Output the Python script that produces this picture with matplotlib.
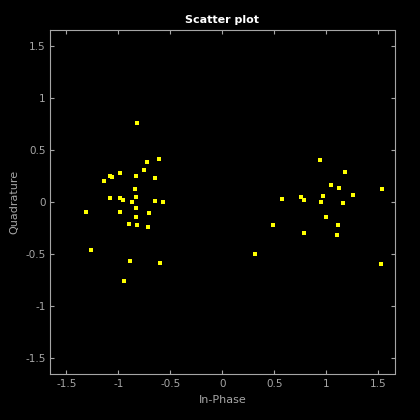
import matplotlib
matplotlib.use("Agg")
import matplotlib.pyplot as plt

# scatter points
in_phase = [-0.826, -0.721, -0.606, -0.75, -0.981, -0.827, -0.644, -1.077, -1.06, -1.137,
            -0.839, -1.077, -0.981, -0.955, -0.827, -0.865, -0.644, -0.567, -1.308, -0.981,
            -0.83, -0.702, -0.827, -0.894, -0.817, -0.712, -1.26, -0.885, -0.596, -0.942,
            0.942, 1.18, 1.048, 1.119, 1.538, 1.26, 0.971, 0.577, 0.754, 0.789,
            0.946, 1.163, 1.0, 1.115, 0.49, 0.789, 1.106, 0.317, 1.529]
quadrature = [0.762, 0.385, 0.413, 0.308, 0.279, 0.256, 0.231, 0.253, 0.24, 0.208,
              0.131, 0.038, 0.044, 0.019, 0.048, 0.0, 0.01, 0.0, -0.096, -0.096,
              -0.058, -0.106, -0.144, -0.212, -0.221, -0.24, -0.462, -0.561, -0.587, -0.76,
              0.41, 0.291, 0.163, 0.14, 0.125, 0.067, 0.058, 0.029, 0.051, 0.019,
              0.003, -0.01, -0.144, -0.221, -0.221, -0.298, -0.317, -0.5, -0.596]

ticks = [-1.5, -1, -0.5, 0, 0.5, 1, 1.5]
tick_labels = ['-1.5', '-1', '-0.5', '0', '0.5', '1', '1.5']

GRAY = '#a6a6a6'

fig = plt.figure(figsize=(4.2, 4.2), dpi=100, facecolor='black')
ax = fig.add_axes([50.3 / 420, 1 - 374.3 / 420, 344.2 / 420, 344 / 420])
ax.set_facecolor('black')

ax.scatter(in_phase, quadrature, s=6, marker='s', c='yellow', linewidths=0)

ax.set_xlim(-1.655, 1.655)
ax.set_ylim(-1.655, 1.655)
ax.set_xticks(ticks)
ax.set_xticklabels(tick_labels)
ax.set_yticks(ticks)
ax.set_yticklabels(tick_labels)

ax.tick_params(direction='in', length=3, width=0.8, colors=GRAY, labelsize=7.5,
               top=True, right=True)
for sp in ax.spines.values():
    sp.set_color(GRAY)
    sp.set_linewidth(0.8)

ax.set_xlabel('In-Phase', color=GRAY, fontsize=8)
ax.set_ylabel('Quadrature', color=GRAY, fontsize=8)
ax.set_title('Scatter plot', color='white', fontsize=8, fontweight='bold', pad=5)

fig.savefig('out.png', dpi=100, facecolor='black')
